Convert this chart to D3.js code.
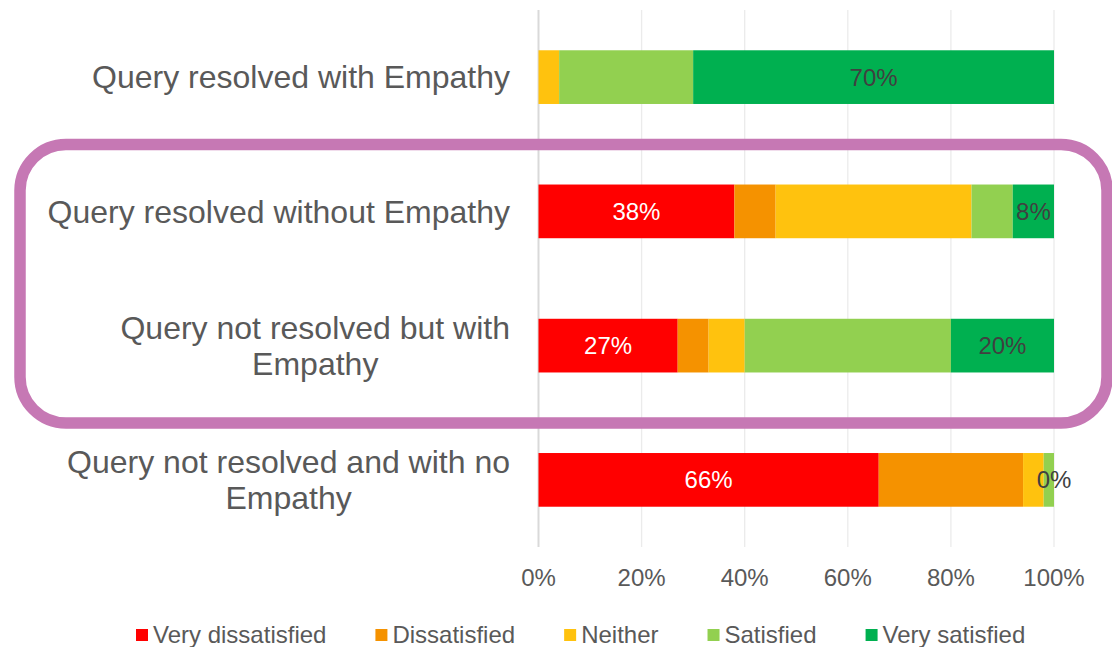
<!DOCTYPE html>
<html>
<head>
<meta charset="utf-8">
<script src="https://cdn.jsdelivr.net/npm/d3@7"></script>
<style>
  html, body { margin: 0; padding: 0; background: #ffffff; }
  svg { display: block; font-family: "Liberation Sans", Arial, sans-serif; }
</style>
</head>
<body>
<svg id="chart" width="1112" height="647"></svg>
<script>
// ---- data ----
const categories = [
  ["Query resolved with Empathy"],
  ["Query resolved without Empathy"],
  ["Query not resolved but with", "Empathy"],
  ["Query not resolved and with no", "Empathy"]
];
const seriesNames = ["Very dissatisfied", "Dissatisfied", "Neither", "Satisfied", "Very satisfied"];
const veryDissatisfied = [0, 38, 27, 66];
const dissatisfied     = [0, 8, 6, 28];
const neither          = [4, 38, 7, 4];
const satisfied        = [26, 8, 40, 2];
const verySatisfied    = [70, 8, 20, 0];
const tickValues = [0, 20, 40, 60, 80, 100];
const tickLabels = ["0%", "20%", "40%", "60%", "80%", "100%"];
const colors = ["#FF0000", "#F59200", "#FFC20E", "#92D050", "#00B050"];

const seriesValues = [veryDissatisfied, dissatisfied, neither, satisfied, verySatisfied];
const rows = categories.map((c, i) => {
  const r = { idx: i };
  seriesNames.forEach((s, j) => r[s] = seriesValues[j][i]);
  return r;
});

const svg = d3.select("#chart");
const x = d3.scaleLinear().domain([0, 100]).range([538.5, 1054]);
const y = d3.scaleBand().domain(d3.range(categories.length)).range([10, 547])
  .paddingInner(0.6).paddingOuter(0.3);

// gridlines
svg.append("g").selectAll("line").data(tickValues).join("line")
  .attr("x1", d => x(d)).attr("x2", d => x(d))
  .attr("y1", 10).attr("y2", 547)
  .attr("stroke", d => d === 0 ? "#D9D9D9" : "#EBEBEB")
  .attr("stroke-width", d => d === 0 ? 2 : 1.3);

// stacked bars
const stack = d3.stack().keys(seriesNames)(rows);
svg.append("g").selectAll("g").data(stack).join("g")
  .attr("fill", (d, i) => colors[i])
  .selectAll("rect").data(d => d).join("rect")
  .attr("x", d => x(d[0]))
  .attr("y", d => y(d.data.idx))
  .attr("width", d => x(d[1]) - x(d[0]))
  .attr("height", y.bandwidth());

// data labels: very dissatisfied (white, when > 0) and very satisfied (dark)
const lab = svg.append("g").attr("font-size", 24).attr("text-anchor", "middle");
stack[0].forEach(d => {
  if (d[1] - d[0] > 0) {
    lab.append("text").attr("x", (x(d[0]) + x(d[1])) / 2)
      .attr("y", y(d.data.idx) + y.bandwidth() / 2).attr("dy", "0.35em")
      .attr("fill", "#FFFFFF").text((d[1] - d[0]) + "%");
  }
});
stack[4].forEach(d => {
  lab.append("text").attr("x", (x(d[0]) + x(d[1])) / 2)
    .attr("y", y(d.data.idx) + y.bandwidth() / 2).attr("dy", "0.35em")
    .attr("fill", "#404040").text((d[1] - d[0]) + "%");
});

// x axis tick labels
svg.append("g").attr("font-size", 24).attr("fill", "#595959").attr("text-anchor", "middle")
  .selectAll("text").data(tickValues).join("text")
  .attr("x", d => x(d)).attr("y", 586)
  .text((d, i) => tickLabels[i]);

// category labels
const catG = svg.append("g").attr("font-size", 32).attr("fill", "#595959");
categories.forEach((lines, i) => {
  const cy = y(i) + y.bandwidth() / 2;
  const lh = 36;
  const texts = lines.map((ln, k) => catG.append("text")
    .attr("y", cy + (k - (lines.length - 1) / 2) * lh).attr("dy", "0.35em").text(ln));
  const widths = texts.map(t => t.node().getComputedTextLength());
  const maxW = d3.max(widths);
  const right = 510;
  texts.forEach(t => t.attr("text-anchor", "middle").attr("x", right - maxW / 2));
});

// legend
const leg = svg.append("g").attr("font-size", 24).attr("fill", "#595959");
let lx = 136;
seriesNames.forEach((s, i) => {
  leg.append("rect").attr("x", lx).attr("y", 629).attr("width", 12).attr("height", 12).attr("fill", colors[i]);
  const t = leg.append("text").attr("x", lx + 17).attr("y", 635).attr("dy", "0.35em").text(s);
  lx += 17 + t.node().getComputedTextLength() + 49;
});

// highlight rounded rectangle
svg.append("rect").attr("x", 20).attr("y", 144.5).attr("width", 1087).attr("height", 278.5)
  .attr("rx", 46).attr("ry", 46)
  .attr("fill", "none").attr("stroke", "#C678B4").attr("stroke-width", 11.5);
</script>
</body>
</html>
